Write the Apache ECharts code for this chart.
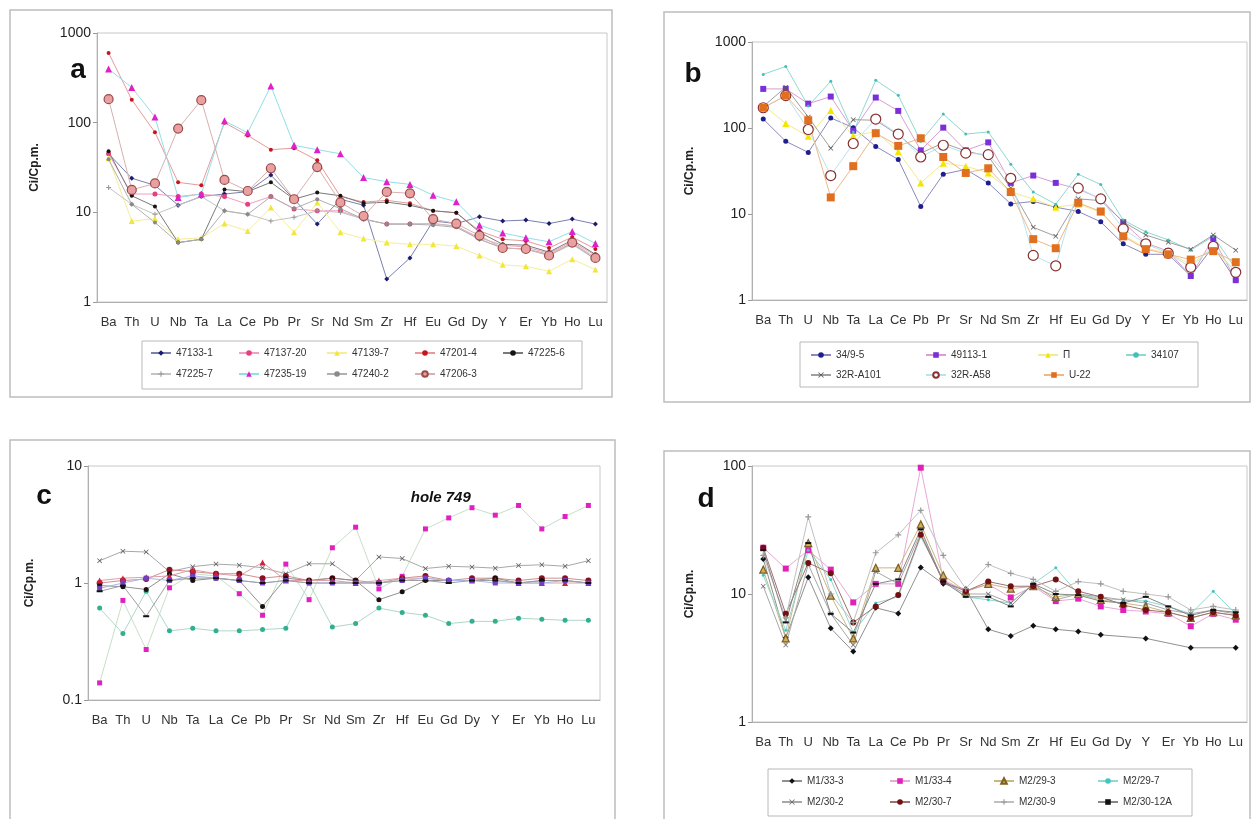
<!DOCTYPE html>
<html><head><meta charset="utf-8">
<script src="https://cdn.jsdelivr.net/npm/echarts@6/dist/echarts.min.js"></script>
<style>html,body{margin:0;padding:0;background:#fff}#c{width:1254px;height:819px}</style>
</head><body><div id="c"></div><script>
// ---------- DATA ----------
const categories = ['Ba','Th','U','Nb','Ta','La','Ce','Pb','Pr','Sr','Nd','Sm','Zr','Hf','Eu','Gd','Dy','Y','Er','Yb','Ho','Lu'];
const yTitle = 'Ci/Cp.m.';

// panel a
const a47133_1  = [45, 24, 20, 12, 15, 16, 17, 26, 14, 7.4, 14, 12, 1.8, 3.1, 8.0, 7.5, 8.9, 8.0, 8.2, 7.5, 8.4, 7.4];
const a47137_20 = [45, 16, 16, 15, 16, 15, 12.3, 15, 10.9, 10.4, 10.4, 8.4, 7.4, 7.4, 7.5, 7.0, 5.2, 4.3, 4.1, 3.5, 4.7, 3.3];
const a47139_7  = [40, 8.0, 8.5, 5.0, 5.2, 7.5, 6.2, 11.3, 6.0, 12.9, 6.0, 5.1, 4.6, 4.4, 4.4, 4.2, 3.3, 2.6, 2.5, 2.2, 3.0, 2.3];
const a47201_4  = [600, 180, 78, 21.6, 20, 100, 72, 50, 52, 38, 15, 13, 13.6, 12.6, 10.4, 9.9, 6.2, 5.0, 4.8, 4.0, 5.3, 3.9];
const a47225_6  = [48, 15.3, 11.6, 4.6, 5.0, 18, 17, 21.6, 14, 16.6, 15.3, 12.6, 13, 12, 10.4, 9.9, 6.0, 4.4, 4.3, 3.6, 4.9, 3.4];
const a47225_7  = [18.9, 12.3, 9.5, 12, 15, 10.4, 9.5, 8.0, 8.8, 10.4, 10, 8.4, 7.4, 7.4, 7.5, 7.0, 5.0, 4.0, 3.9, 3.3, 4.4, 3.0];
const a47235_19 = [397, 247, 116, 14.6, 16, 105, 77, 257, 56, 50, 45, 24.4, 22, 20.5, 15.5, 13.1, 7.2, 5.9, 5.2, 4.7, 6.1, 4.5];
const a47240_2  = [39, 12.3, 7.7, 4.6, 5.0, 10.4, 9.5, 15, 11, 14, 11, 8.4, 7.4, 7.4, 7.2, 6.8, 5.0, 4.0, 3.9, 3.4, 4.5, 3.0];
const a47206_3  = [183, 17.8, 21, 86, 178, 23, 17.3, 31, 14, 32, 12.9, 9.1, 16.9, 16.3, 8.4, 7.5, 5.5, 4.0, 3.9, 3.3, 4.6, 3.1];

// panel b
const b34_9_5   = [127, 70, 52, 131, 101, 61, 43, 12.2, 29, 33, 23, 13.1, 14, 12, 10.7, 8.1, 4.5, 3.4, 3.4, 1.9, 4.2, 1.7];
const b49113_1  = [285, 285, 192, 232, 93, 226, 158, 55, 101, 55, 68, 23, 28, 23, 19.5, 15, 8.0, 4.6, 3.7, 1.9, 5.2, 1.7];
const bP        = [184, 113, 80, 160, 81, 91, 53, 23, 39, 36, 30, 18, 15, 12, 13, 10.5, 5.7, 4.0, 3.5, 2.6, 4.0, 2.1];
const b34107    = [420, 520, 180, 350, 90, 360, 240, 70, 145, 85, 90, 38, 18, 13, 29, 22, 8.5, 6.2, 5.0, 3.8, 5.5, 2.3];
const b32R_A101 = [178, 298, 134, 58, 125, 123, 83, 51, 67, 54, 47, 20, 7.0, 5.5, 15, 14.3, 8.1, 5.7, 4.7, 3.9, 5.7, 3.8];
const b32R_A58  = [172, 238, 96, 28, 66, 127, 85, 46, 63, 51, 49, 26, 3.3, 2.5, 20, 15, 6.7, 4.5, 3.5, 2.4, 4.2, 2.1];
const bU_22     = [172, 238, 123, 15.6, 36, 87, 62, 76, 46, 30, 34, 18, 5.1, 4.0, 13.5, 10.7, 5.5, 3.9, 3.4, 2.95, 3.7, 2.75];

// panel c (hole 749)
const cMagenta  = [0.14, 0.71, 0.27, 0.91, 1.2, 1.15, 0.81, 0.53, 1.45, 0.72, 2.0, 3.0, 0.89, 1.14, 2.9, 3.6, 4.4, 3.8, 4.6, 2.9, 3.7, 4.6];
const cCross    = [1.55, 1.87, 1.84, 1.25, 1.38, 1.45, 1.42, 1.35, 1.2, 1.46, 1.46, 1.05, 1.67, 1.62, 1.33, 1.39, 1.37, 1.34, 1.41, 1.43, 1.39, 1.55];
const cTeal     = [0.61, 0.37, 0.85, 0.39, 0.41, 0.39, 0.39, 0.40, 0.41, 1.0, 0.42, 0.45, 0.61, 0.56, 0.53, 0.45, 0.47, 0.47, 0.50, 0.49, 0.48, 0.48];
const cDarkRed  = [1.0, 1.05, 1.08, 1.3, 1.25, 1.2, 1.2, 1.1, 1.15, 1.05, 1.1, 1.05, 1.0, 1.1, 1.15, 1.05, 1.1, 1.1, 1.05, 1.1, 1.1, 1.05];
const cBlack    = [0.95, 0.93, 0.88, 1.2, 1.05, 1.1, 1.05, 0.63, 1.1, 1.05, 1.1, 1.05, 0.72, 0.84, 1.05, 1.05, 1.05, 1.1, 1.0, 1.05, 1.05, 1.0];
const cRedTri   = [1.05, 1.1, 1.12, 1.15, 1.3, 1.2, 1.15, 1.5, 1.05, 1.05, 1.05, 1.0, 1.05, 1.1, 1.1, 1.05, 1.05, 1.05, 1.0, 1.0, 1.0, 1.0];
const cViolet   = [0.9, 1.0, 1.1, 1.05, 1.15, 1.1, 1.05, 1.0, 1.05, 1.0, 1.0, 1.0, 1.0, 1.05, 1.1, 1.05, 1.05, 1.0, 1.0, 1.0, 1.05, 1.0];
const cDash     = [0.85, 0.95, 0.52, 1.05, 1.1, 1.1, 1.05, 1.0, 1.05, 1.0, 1.0, 1.0, 1.0, 1.05, 1.05, 1.0, 1.05, 1.05, 1.0, 1.05, 1.05, 1.0];
const cLabel = 'hole 749';

// panel d
const dM1_33_3   = [18.8, 4.55, 13.5, 5.4, 3.55, 7.8, 7.05, 16.1, 12.0, 10.9, 5.3, 4.7, 5.65, 5.3, 5.1, 4.8, null, 4.5, null, 3.8, null, 3.8];
const dM1_33_4   = [23, 15.8, 22, 15.5, 8.6, 12, 12, 97, 13, 10.5, 11.9, 9.4, 11.5, 8.8, 9.2, 8.0, 7.5, 7.3, 7.0, 5.6, 7.0, 6.3];
const dM2_29_3   = [15.5, 4.5, 25, 9.7, 4.5, 16, 16, 35, 14, 10.5, 12, 11, 11.5, 9.5, 10, 9, 8.5, 8, 7.2, 6.5, 7.2, 6.8];
const dM2_29_7   = [14, 5.2, 22, 13, 5, 8.5, 9.5, 28, 13, 9.5, 9, 8.5, 12, 16, 10, 9.2, 9, 8.8, 8, 7, 10.5, 7];
const dM2_30_2   = [11.5, 4.0, 17, 7.0, 4.0, 15, 12, 30, 12.5, 10, 10, 8.5, 12, 9, 10, 9.5, 9, 8.5, 7.5, 7, 7.5, 7];
const dM2_30_7   = [23, 7.0, 17.5, 14.5, 6.0, 8.0, 9.8, 29, 12.5, 10.5, 12.5, 11.5, 11.5, 13, 10.5, 9.5, 8.2, 7.5, 7.2, 6.5, 7.2, 6.8];
const dM2_30_9   = [20, 6.5, 40, 10, 6.0, 21, 29, 45, 20, 11, 17, 14.5, 13, 10.5, 12.5, 12, 10.5, 10, 9.5, 7.5, 8.0, 7.5];
const dM2_30_12A = [22, 6, 25, 7.0, 5, 12, 13, 32, 12.5, 9.5, 9.5, 8, 12, 10, 9.8, 8.8, 8.5, 9.5, 8, 6.8, 7.5, 7.2];

// ---------- STYLE ----------
const FONT = 'Liberation Sans, Arial, sans-serif';
const PLUS = 'path://M4,0H6V4H10V6H6V10H4V6H0V4H4Z';
const CROSS = 'path://M1,0L5,4L9,0L10,1L6,5L10,9L9,10L5,6L1,10L0,9L4,5L0,1Z';

function S(name, data, p, symbol, size, color, lineColor, border) {
  return {
    name, type: 'line', data, xAxisIndex: p, yAxisIndex: p,
    symbol, symbolSize: size, connectNulls: true,
    lineStyle: { color: lineColor, width: 1 },
    itemStyle: { color, borderColor: border || color, borderWidth: border ? 1.2 : 0 },
    emphasis: { disabled: true }, z: 3
  };
}

const series = [
  // a
  S('47133-1', a47133_1, 0, 'diamond', 5, '#1b1b70', '#7a7fb0'),
  S('47137-20', a47137_20, 0, 'circle', 5, '#e8407e', '#f0a0c0'),
  S('47139-7', a47139_7, 0, 'triangle', 6, '#f2e63a', '#f5ee9a'),
  S('47201-4', a47201_4, 0, 'circle', 4, '#c8141e', '#e89a9a'),
  S('47225-6', a47225_6, 0, 'circle', 4, '#141414', '#7a7a7a'),
  S('47225-7', a47225_7, 0, PLUS, 5, '#999999', '#c4c4c4'),
  S('47235-19', a47235_19, 0, 'triangle', 7, '#e020c8', '#90e0e8'),
  S('47240-2', a47240_2, 0, 'circle', 4, '#8a8a8a', '#b0b0b0'),
  S('47206-3', a47206_3, 0, 'circle', 9, '#e8a0a0', '#d8b0b0', '#9a4a4a'),
  // b
  S('34/9-5', b34_9_5, 1, 'circle', 5, '#1e1e90', '#8a8ac0'),
  S('49113-1', b49113_1, 1, 'rect', 6, '#7a30d8', '#d8a0d0'),
  S('П', bP, 1, 'triangle', 7, '#f4e600', '#f0ec90'),
  S('34107', b34107, 1, 'circle', 3, '#40c0b8', '#90d8d0'),
  S('32R-A101', b32R_A101, 1, CROSS, 5, '#555555', '#a0a0a0'),
  S('32R-A58', b32R_A58, 1, 'circle', 10, '#ffffff', '#b8e4f0', '#8a3030'),
  S('U-22', bU_22, 1, 'rect', 8, '#e07020', '#f0b888'),
  // c
  S('c-hole', cMagenta, 2, 'rect', 5, '#e020c0', '#c8e0c8'),
  S('c-cross', cCross, 2, CROSS, 5, '#555555', '#a8a8a8'),
  S('c-teal', cTeal, 2, 'circle', 5, '#30b090', '#b0d8c8'),
  S('c-darkred', cDarkRed, 2, 'circle', 6, '#8a1020', '#d09090'),
  S('c-black', cBlack, 2, 'circle', 5, '#1a1010', '#909090'),
  S('c-redtri', cRedTri, 2, 'triangle', 6, '#d02040', '#e0a0a8'),
  S('c-violet', cViolet, 2, 'rect', 5, '#7040c0', '#a8b8e8'),
  S('c-dash', cDash, 2, 'rect', [6, 2], '#111111', '#a0a0a0'),
  // d
  S('M1/33-3', dM1_33_3, 3, 'diamond', 6, '#101018', '#909090'),
  S('M1/33-4', dM1_33_4, 3, 'rect', 6, '#e020b8', '#e8a8d8'),
  S('M2/29-3', dM2_29_3, 3, 'triangle', 7, '#d0b060', '#c8b880', '#806020'),
  S('M2/29-7', dM2_29_7, 3, 'circle', 3, '#40c8c0', '#90d8d0'),
  S('M2/30-2', dM2_30_2, 3, CROSS, 5, '#666666', '#a8a8a8'),
  S('M2/30-7', dM2_30_7, 3, 'circle', 6, '#701010', '#a07070'),
  S('M2/30-9', dM2_30_9, 3, PLUS, 6, '#999999', '#c0c0c0'),
  S('M2/30-12A', dM2_30_12A, 3, 'rect', [6, 2], '#111111', '#888888')
];

const grids = [
  { left: 97, top: 33, width: 510, height: 269 },
  { left: 752, top: 42, width: 495, height: 258 },
  { left: 88, top: 466, width: 512, height: 234 },
  { left: 752, top: 466, width: 495, height: 256 }
].map(g => Object.assign(g, { show: true, borderColor: '#c8c8c8', borderWidth: 1, containLabel: false }));

const yRanges = [[1, 1000], [1, 1000], [0.1, 10], [1, 100]];
const nameGaps = [56, 56, 52, 56];

const xAxes = grids.map((g, i) => ({
  type: 'category', gridIndex: i, data: categories, boundaryGap: true,
  axisLine: { lineStyle: { color: '#b0b0b0' } }, axisTick: { show: false },
  axisLabel: { interval: 0, fontSize: 13, color: '#333', fontFamily: FONT, margin: 14 }
}));
const yAxes = grids.map((g, i) => ({
  type: 'log', logBase: 10, gridIndex: i, min: yRanges[i][0], max: yRanges[i][1],
  name: yTitle, nameLocation: 'middle', nameRotate: 90, nameGap: nameGaps[i],
  nameTextStyle: { fontSize: 12, fontWeight: 'bold', color: '#222', fontFamily: FONT },
  axisLine: { show: true, lineStyle: { color: '#b0b0b0' } },
  axisTick: { show: true, length: 4, lineStyle: { color: '#999' } },
  splitLine: { show: false }, minorTick: { show: false },
  axisLabel: { fontSize: 14, color: '#222', fontFamily: FONT, margin: 6, formatter: v => String(+v.toPrecision(3)) }
}));

// one legend component per entry so each column can be placed like the reference
function LGrow(names, textXs, top) {
  return names.map((n, k) => ({
    data: [n], left: textXs[k] - 25, top, orient: 'horizontal', itemWidth: 20, itemHeight: 7,
    selectedMode: false, padding: 0,
    textStyle: { fontSize: 10, color: '#333', fontFamily: FONT }
  }));
}
const legends = [].concat(
  LGrow(['47133-1','47137-20','47139-7','47201-4','47225-6'], [175, 263, 351, 439, 527], 348),
  LGrow(['47225-7','47235-19','47240-2','47206-3'], [175, 263, 351, 439], 369),
  LGrow(['34/9-5','49113-1','П','34107'], [835, 950, 1062, 1150], 350),
  LGrow(['32R-A101','32R-A58','U-22'], [835, 950, 1068], 370),
  LGrow(['M1/33-3','M1/33-4','M2/29-3','M2/29-7'], [806, 914, 1018, 1122], 776),
  LGrow(['M2/30-2','M2/30-7','M2/30-9','M2/30-12A'], [806, 914, 1018, 1122], 797)
);

function frame(id, x, y, w, h, stroke, lw) {
  return { id, type: 'rect', shape: { x, y, width: w, height: h }, silent: true, z: 0,
    style: { fill: 'none', stroke, lineWidth: lw } };
}
function letter(id, t, x, y) {
  return { id, type: 'text', x, y, silent: true, z: 10,
    style: { text: t, fontSize: 28, fontWeight: 'bold', fill: '#111', fontFamily: FONT, textAlign: 'center', textVerticalAlign: 'middle' } };
}
const graphics = [
  frame('fa', 10, 10, 602, 387, '#bdbdbd', 1.5),
  frame('fb', 664, 12, 586, 390, '#bdbdbd', 1.5),
  frame('fc', 10, 440, 605, 400, '#bdbdbd', 1.5),
  frame('fd', 664, 451, 586, 400, '#bdbdbd', 1.5),
  frame('la', 142, 341, 440, 48, '#b8b8b8', 1),
  frame('lb', 800, 342, 398, 45, '#b8b8b8', 1),
  frame('ld', 768, 769, 424, 47, '#b8b8b8', 1),
  letter('ta', 'a', 78, 70),
  letter('tb', 'b', 693, 74),
  letter('tc', 'c', 44, 496),
  letter('td', 'd', 706, 499)
];

const chart = echarts.init(document.getElementById('c'), null, { renderer: 'canvas' });
chart.setOption({
  animation: false, backgroundColor: '#fff',
  textStyle: { fontFamily: FONT },
  grid: grids, xAxis: xAxes, yAxis: yAxes, legend: legends, series, graphic: graphics
});
// annotation anchored to the data scale of panel c
const pt = chart.convertToPixel({ xAxisIndex: 2, yAxisIndex: 2 }, ['Gd', 5.3]);
chart.setOption({ graphic: [{ id: 'hole', type: 'text', x: pt[0] - 8, y: pt[1], silent: true, z: 10,
  style: { text: cLabel, fontSize: 15, fontWeight: 'bold', fontStyle: 'italic', fill: '#111', fontFamily: FONT,
    textAlign: 'center', textVerticalAlign: 'middle' } }] });
</script></body></html>
